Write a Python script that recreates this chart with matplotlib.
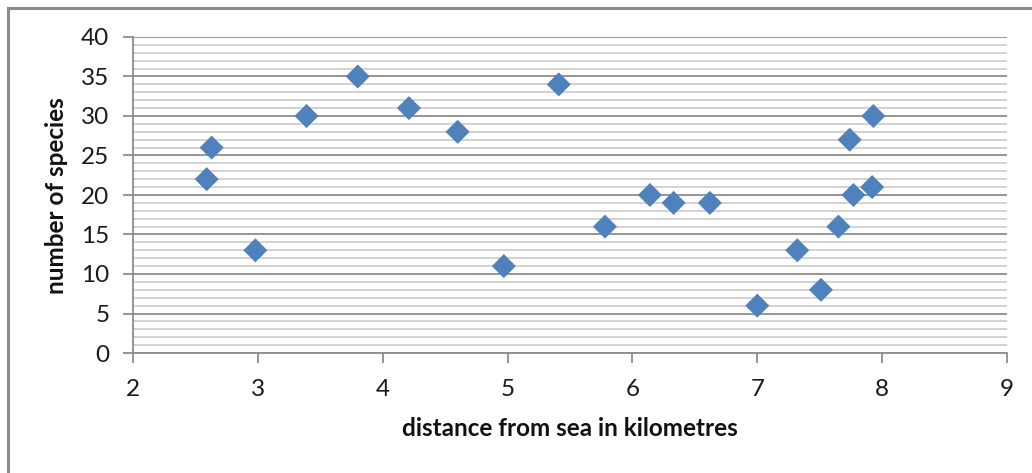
import matplotlib
matplotlib.use("Agg")
import matplotlib.pyplot as plt
from matplotlib.patches import Rectangle
import numpy as np

# data
distance_km = [2.59, 2.63, 2.98, 3.39, 3.80, 4.21, 4.60, 4.97, 5.41, 5.78, 6.14,
               6.33, 6.62, 7.00, 7.32, 7.51, 7.65, 7.74, 7.77, 7.92, 7.93]
species = [22, 26, 13, 30, 35, 31, 28, 11, 34, 16, 20,
           19, 19, 6, 13, 8, 16, 27, 20, 21, 30]
x_ticks = [2, 3, 4, 5, 6, 7, 8, 9]
y_ticks = [0, 5, 10, 15, 20, 25, 30, 35, 40]

plt.rcParams['font.family'] = ['Lato', 'DejaVu Sans']

W, H = 1032, 473
fig = plt.figure(figsize=(W / 100, H / 100), dpi=100)
fig.patch.set_facecolor('white')

# outer chart border
fig.patches.append(Rectangle((7.5 / W, -0.2), 1.5, 1.2 - 7.5 / H,
                             transform=fig.transFigure, fill=False,
                             edgecolor='#8c8c8c', linewidth=2.2, zorder=0))

ax = fig.add_axes([133 / W, 1 - 353 / H, (1007 - 133) / W, (353 - 37) / H])
ax.set_xlim(2, 9)
ax.set_ylim(0, 40)

# gridlines
for v in range(0, 41):
    if v % 5 == 0:
        ax.axhline(v, color='#8e8e8e', linewidth=1.3, zorder=1)
    else:
        ax.axhline(v, color='#cfcfcf', linewidth=1.3, zorder=1)

ax.scatter(distance_km, species, marker='D', s=150, color='#4f81bd',
           edgecolors='none', zorder=3, clip_on=False)

for side in ['top', 'right']:
    ax.spines[side].set_visible(False)
for side in ['left', 'bottom']:
    ax.spines[side].set_color('#8e8e8e')
    ax.spines[side].set_linewidth(1.3)

ax.set_xticks(x_ticks)
ax.set_yticks(y_ticks)
ax.tick_params(axis='both', direction='out', length=7, width=1.3, color='#8e8e8e',
               labelsize=17.5, labelcolor='#1a1a1a')
ax.tick_params(axis='x', pad=12)
ax.tick_params(axis='y', pad=10)

ax.set_xlabel('distance from sea in kilometres', fontsize=17.5, fontweight='bold',
              color='#111111')
ax.set_ylabel('number of species', fontsize=17.5, fontweight='bold',
              color='#111111')
ax.xaxis.set_label_coords((570 - 133) / (1007 - 133), -(428 - 353) / (353 - 37))
ax.yaxis.set_label_coords(-(133 - 57) / (1007 - 133), (353 - 196) / (353 - 37))
ax.xaxis.label.set_verticalalignment('center')
ax.yaxis.label.set_verticalalignment('center')

fig.savefig('out.png', dpi=100)
